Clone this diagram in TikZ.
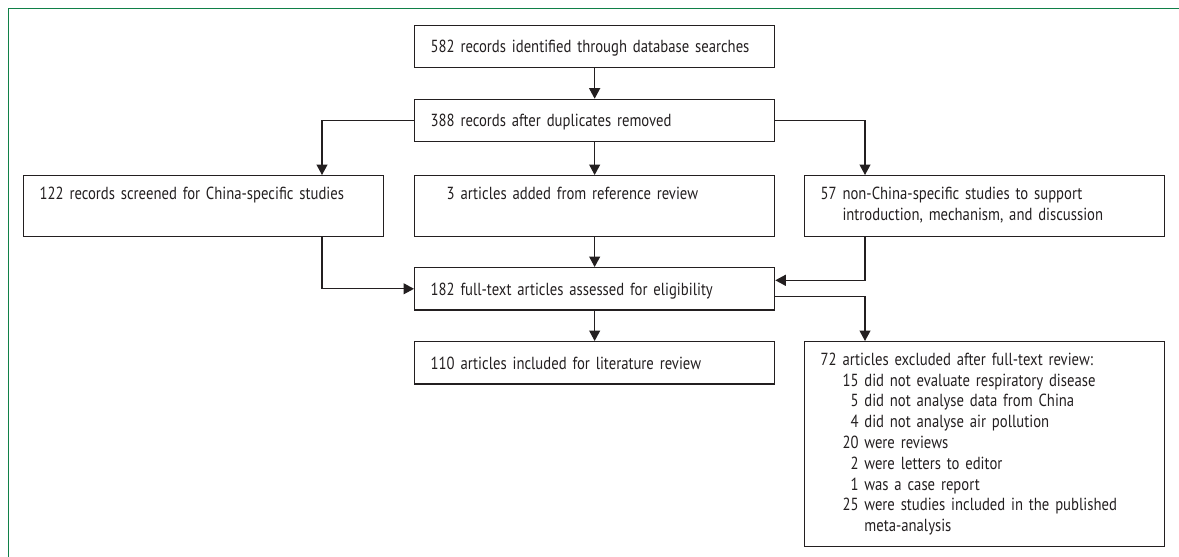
\documentclass[tikz,border=0pt]{standalone}
\usepackage{fontspec}
\setmainfont{PT Sans}[FakeStretch=0.84,WordSpace=0.8]
\usepackage{xcolor}
\usepackage{tikz}
\usetikzlibrary{arrows.meta}
\definecolor{framegreen}{RGB}{16,128,72}
\definecolor{ink}{RGB}{35,31,32}
\tikzset{
  flowbox/.style={draw=ink,line width=1.3pt,anchor=north west,align=left,
    text width=328pt,inner xsep=16pt,inner ysep=0pt,text=ink,
    font=\fontsize{17.5}{20.8}\selectfont},
  onebox/.style={flowbox,minimum height=42.3pt,text depth=0pt},
  rowbox/.style={flowbox,minimum height=60.5pt},
  flowline/.style={draw=ink,line width=1.2pt,-{Triangle[length=10.5pt,width=11pt]}}
}
\begin{document}
\begin{tikzpicture}[x=1pt,y=-1pt]
        \useasboundingbox (0,0) rectangle (1179,557);
        \draw[framegreen,line width=1.5pt] (1179,8.3) -- (8.3,8.3) -- (8.3,557);
        \node[onebox] (b582) at (414,24.5) {582 records identified through database searches};
        \node[onebox] (b388) at (414,98.7) {388 records after duplicates removed};
        \node[rowbox] (b122) at (23,175) {\strut 122 records screened for China-specific studies\\\strut};
        \node[rowbox] (b3) at (414,175) {\strut\phantom{00}3 articles added from reference review\\\strut};
        \node[rowbox] (b57) at (804,175) {\strut 57 non-China-specific studies to support\\\phantom{57\ }introduction, mechanism, and discussion\strut};
        \node[onebox] (b182) at (414,267) {182 full-text articles assessed for eligibility};
        \node[onebox] (b110) at (414,341) {110 articles included for literature review};
        \node[flowbox,minimum height=204.7pt] (b72) at (804,341) {72 articles excluded after full-text review:\\
          \phantom{72\ }15 did not evaluate respiratory disease\\
          \phantom{72\ 1}5 did not analyse data from China\\
          \phantom{72\ 1}4 did not analyse air pollution\\
          \phantom{72\ }20 were reviews\\
          \phantom{72\ 1}2 were letters to editor\\
          \phantom{72\ 1}1 was a case report\\
          \phantom{72\ }25 were studies included in the published\\
          \phantom{72\ 25\ }meta-analysis};
        \coordinate (lft) at (322,0);
        \coordinate (rgt) at (865,0);
        \draw[flowline] (b582.south) -- (b388.north);
        \draw[flowline] (b388.west) -| (lft |- b122.north);
        \draw[flowline] (b388.south) -- (b3.north);
        \draw[flowline] (b388.east) -| (rgt |- b57.north);
        \draw[flowline] (lft |- b122.south) |- (b182.west);
        \draw[flowline] (b3.south) -- (b182.north);
        \draw[flowline] (rgt |- b57.south) |- ([yshift=8.5pt]b182.east);
        \draw[flowline] ([yshift=-7.5pt]b182.east) -| (rgt |- b72.north);
        \draw[flowline] (b182.south) -- (b110.north);
    \end{tikzpicture}
\end{document}
